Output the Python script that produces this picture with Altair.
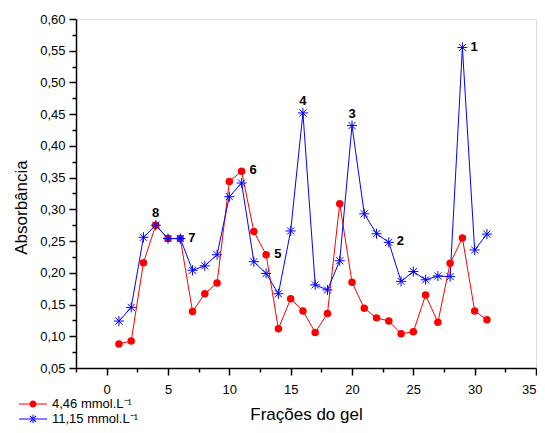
import altair as alt
import pandas as pd

fractions = list(range(1, 32))
red_vals = [0.088, 0.0925, 0.216, 0.275, 0.254, 0.254, 0.139, 0.167, 0.184, 0.344,
            0.360, 0.265, 0.2285, 0.112, 0.159, 0.140, 0.106, 0.136, 0.309, 0.185,
            0.144, 0.129, 0.124, 0.104, 0.107, 0.165, 0.122, 0.215, 0.255, 0.140, 0.126]
blue_vals = [0.124, 0.1455, 0.256, 0.275, 0.254, 0.254, 0.204, 0.211, 0.2285, 0.320,
             0.3415, 0.2175, 0.199, 0.167, 0.266, 0.452, 0.181, 0.173, 0.219, 0.432,
             0.293, 0.2616, 0.248, 0.1865, 0.202, 0.189, 0.195, 0.194, 0.555, 0.236, 0.261]
series_names = ["4,46 mmol.L\u207b\u00b9", "11,15 mmol.L\u207b\u00b9"]
series_colors = ["#ff0000", "#0000ff"]

peak_labels = ["1", "2", "3", "4", "5", "6", "7", "8"]
peak_fraction = [29, 23, 20, 16, 13, 11, 6, 4]
peak_series = [1, 1, 1, 1, 0, 0, 1, 1]
peak_place = ["right", "right", "above", "above", "right", "right", "right", "above"]

x_major = [0, 5, 10, 15, 20, 25, 30, 35]
x_minor = [-2.5, 2.5, 7.5, 12.5, 17.5, 22.5, 27.5, 32.5]
y_major = [0.05, 0.1, 0.15, 0.2, 0.25, 0.3, 0.35, 0.4, 0.45, 0.5, 0.55, 0.6]
y_minor = [0.075, 0.125, 0.175, 0.225, 0.275, 0.325, 0.375, 0.425, 0.475, 0.525, 0.575]

rows = []
for i, f in enumerate(fractions):
    rows.append({"fr": f, "abs": red_vals[i], "series": series_names[0], "o": 0})
for i, f in enumerate(fractions):
    rows.append({"fr": f, "abs": blue_vals[i], "series": series_names[1], "o": 1})
df = pd.DataFrame(rows)

ann = []
for lab, f, s, p in zip(peak_labels, peak_fraction, peak_series, peak_place):
    vals = red_vals if s == 0 else blue_vals
    ann.append({"fr": f, "abs": vals[fractions.index(f)], "label": lab, "place": p})
ann_df = pd.DataFrame(ann)

FONT = "Liberation Sans"

line_rect = "M-2,-0.08H2V0.08H-2Z"
circle_leg = line_rect + "M-0.5,0A0.5,0.5,0,1,1,0.5,0A0.5,0.5,0,1,1,-0.5,0Z"
star_leg = (line_rect + "M-0.07,-0.6H0.07V0.6H-0.07Z"
            "M-0.4,-0.5L0.5,0.4L0.4,0.5L-0.5,-0.4Z"
            "M-0.4,0.5L0.5,-0.4L0.4,-0.5L-0.5,0.4Z")
star_pt = "M0,-1.35V1.35M-1.35,0H1.35M-0.95,-0.95L0.95,0.95M-0.95,0.95L0.95,-0.95"

x_scale = alt.Scale(domain=[-2.5, 35], nice=False, zero=False)
y_scale = alt.Scale(domain=[0.05, 0.60], nice=False, zero=False)

axis_common = dict(
    grid=False, domainColor="black", tickColor="black", domainWidth=1.5, tickWidth=1.5,
    labelFont=FONT, labelFontSize=13, labelColor="black", labelOverlap=False,
    titleFont=FONT, titleFontWeight="normal", titleColor="black",
)

x_axis = alt.Axis(
    title="Frações do gel", values=x_major, orient="bottom", tickSize=7, labelPadding=8,
    labelFlush=True, titleFontSize=17, titlePadding=10, **axis_common,
)
y_axis = alt.Axis(
    title="Absorbância", values=y_major, orient="left", tickSize=7, labelPadding=4,
    labelFlush=False,
    labelExpr="replace(format(datum.value, '.2f'), '.', ',')",
    titleFontSize=17, titleX=-55, titleY=188, titleAngle=-90, titleAlign="center",
    titleBaseline="middle", **axis_common,
)
x_axis_minor = alt.Axis(
    title=None, values=x_minor, orient="bottom", tickSize=4, labels=False, domain=False,
    grid=False, tickColor="black", tickWidth=1.5,
)
y_axis_minor = alt.Axis(
    title=None, values=y_minor, orient="left", tickSize=4, labels=False, domain=False,
    grid=False, tickColor="black", tickWidth=1.5,
)

legend = alt.Legend(
    orient="none", legendX=-51, legendY=377, title=None, padding=0,
    labelFont=FONT, labelFontSize=13, labelColor="black", labelOffset=11,
    symbolSize=196, rowPadding=0,
)

base = alt.Chart(df)
X0 = alt.X("fr:Q", scale=x_scale, axis=None)
Y0 = alt.Y("abs:Q", scale=y_scale, axis=None)

minor_layer = base.transform_filter("false").mark_point().encode(
    x=alt.X("fr:Q", scale=x_scale, axis=x_axis_minor),
    y=alt.Y("abs:Q", scale=y_scale, axis=y_axis_minor),
)

red_line = base.transform_filter(alt.datum.o == 0).mark_line(strokeWidth=1, color="#ff0000").encode(
    x=alt.X("fr:Q", scale=x_scale, axis=x_axis),
    y=alt.Y("abs:Q", scale=y_scale, axis=y_axis),
    order="fr:Q",
)
blue_line = base.transform_filter(alt.datum.o == 1).mark_line(strokeWidth=1, color="#0000ff").encode(
    x=X0, y=Y0, order="fr:Q",
)

leg_layer = base.transform_filter("false").mark_point(filled=True, opacity=1, size=196).encode(
    x=X0, y=Y0,
    color=alt.Color("series:N", scale=alt.Scale(domain=series_names, range=series_colors), legend=legend),
    shape=alt.Shape("series:N", scale=alt.Scale(domain=series_names, range=[circle_leg, star_leg]), legend=legend),
)

red_pts = base.transform_filter(alt.datum.o == 0).mark_point(
    filled=True, shape="circle", size=56, color="#ff0000", opacity=1
).encode(x=X0, y=Y0)

blue_pts = base.transform_filter(alt.datum.o == 1).mark_point(
    filled=False, shape=star_pt, size=56, color="#0000ff", strokeWidth=1, opacity=1
).encode(x=X0, y=Y0)

ann_base = alt.Chart(ann_df)
ann_right = ann_base.transform_filter(alt.datum.place == "right").mark_text(
    align="left", baseline="middle", dx=8, dy=-1, font=FONT, fontSize=13, fontWeight="bold", color="black"
).encode(x=X0, y=Y0, text="label:N")
ann_above = ann_base.transform_filter(alt.datum.place == "above").mark_text(
    align="center", baseline="middle", dx=0, dy=-12, font=FONT, fontSize=13, fontWeight="bold", color="black"
).encode(x=X0, y=Y0, text="label:N")

chart = alt.layer(minor_layer, red_line, blue_line, leg_layer, red_pts, blue_pts, ann_right, ann_above).resolve_axis(
    x="independent", y="independent"
).properties(
    width=460, height=349,
    autosize=alt.AutoSizeParams(type="none"),
    padding={"left": 68, "top": 11, "right": 1, "bottom": 57},
).configure_view(stroke=None).configure(background="white")

chart.save("out.html", embed_options={"renderer": "svg", "actions": False})
